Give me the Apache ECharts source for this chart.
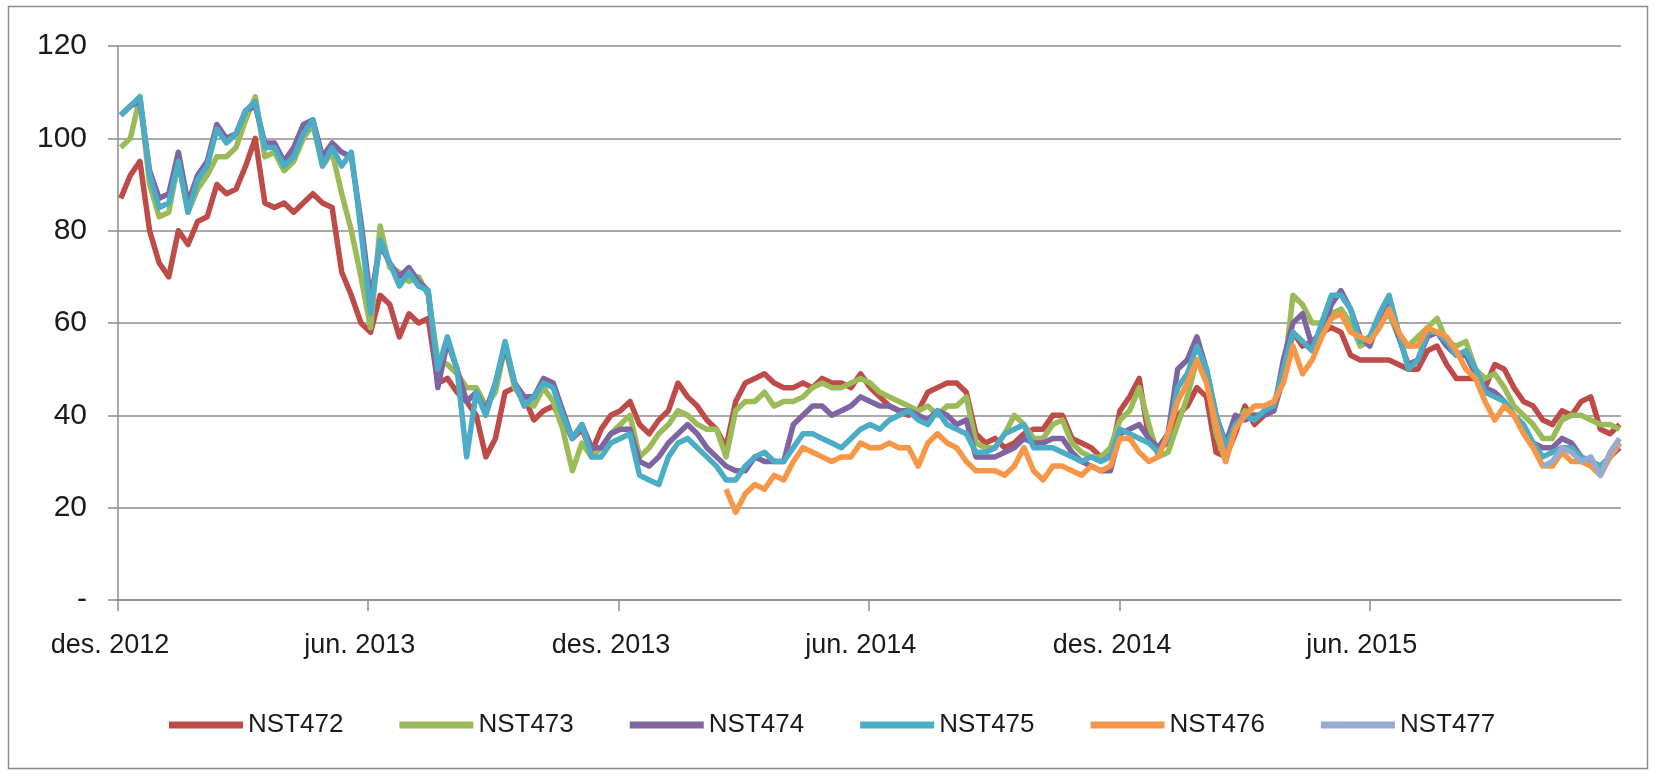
<!DOCTYPE html>
<html>
<head>
<meta charset="utf-8">
<title>NST</title>
<script src="https://cdn.jsdelivr.net/npm/echarts@6.0.0/dist/echarts.min.js"></script>
<style>
    html, body { margin: 0; padding: 0; background: #fff; }
    #chart { width: 1656px; height: 774px; }
</style>
</head>
<body>
<div id="chart"></div>
<script>
// weekly readings, first one 3 Dec 2012
var firstDate = '2012-12-03';
var weeks = 157;

var seriesNames = ['NST472', 'NST473', 'NST474', 'NST475', 'NST476', 'NST477'];
var colors = ['#BE4B48', '#9BBB59', '#8064A2', '#4BACC6', '#F79646', '#95ACD0'];

var nst472 = [
    87, 92, 95, 80, 73, 70, 80, 77, 82, 83,
    90, 88, 89, 94, 100, 86, 85, 86, 84, 86,
    88, 86, 85, 71, 66, 60, 58, 66, 64, 57,
    62, 60, 61, 47, 48, 45, 43, 40, 31, 35,
    45, 46, 44, 39, 41, 42, 39, 35, 37, 32,
    37, 40, 41, 43, 38, 36, 39, 41, 47, 44,
    42, 39, 37, 33, 43, 47, 48, 49, 47, 46,
    46, 47, 46, 48, 47, 47, 46, 49, 46, 44,
    42, 41, 40, 41, 45, 46, 47, 47, 45, 36,
    34, 35, 33, 34, 36, 37, 37, 40, 40, 35,
    34, 33, 31, 31, 41, 44, 48, 35, 33, 34,
    40, 42, 46, 44, 32, 31, 36, 42, 38, 40,
    41, 48, 58, 55, 56, 58, 59, 58, 53, 52,
    52, 52, 52, 51, 50, 50, 54, 55, 51, 48,
    48, 48, 46, 51, 50, 46, 43, 42, 39, 38,
    41, 40, 43, 44, 37, 36, 38
];
var nst473 = [
    98, 100, 109, 90, 83, 84, 95, 84, 89, 92,
    96, 96, 98, 104, 109, 96, 97, 93, 95, 100,
    103, 94, 97, 88, 80, 70, 59, 81, 72, 71,
    69, 70, 66, 52, 51, 49, 46, 46, 42, 45,
    55, 46, 43, 42, 46, 43, 37, 28, 34, 31,
    33, 36, 38, 40, 31, 33, 36, 38, 41, 40,
    38, 37, 37, 31, 41, 43, 43, 45, 42, 43,
    43, 44, 46, 47, 46, 46, 47, 48, 47, 45,
    44, 43, 42, 41, 42, 40, 42, 42, 44, 34,
    33, 33, 36, 40, 38, 35, 35, 38, 39, 34,
    32, 31, 31, 33, 39, 41, 46, 38, 31, 32,
    38, 44, 52, 48, 36, 30, 38, 41, 40, 40,
    42, 48, 66, 64, 60, 60, 62, 63, 60, 55,
    56, 60, 62, 57, 55, 57, 59, 61, 56, 55,
    56, 50, 48, 49, 46, 42, 40, 38, 35, 35,
    39, 40, 40, 39, 38, 38, 37
];
var nst474 = [
    105, 107, 108, 93, 87, 88, 97, 86, 92, 95,
    103, 100, 101, 106, 107, 99, 99, 95, 98, 103,
    104, 96, 99, 97, 96, 82, 65, 77, 73, 70,
    72, 69, 67, 46, 56, 50, 43, 45, 41, 47,
    55, 47, 44, 44, 48, 47, 41, 35, 38, 33,
    33, 36, 37, 37, 30, 29, 31, 34, 36, 38,
    36, 33, 31, 29, 28, 28, 31, 30, 30, 30,
    38, 40, 42, 42, 40, 41, 42, 44, 43, 42,
    42, 41, 41, 40, 39, 41, 40, 38, 39, 31,
    31, 31, 32, 33, 35, 34, 34, 35, 35, 32,
    30, 29, 28, 28, 36, 37, 38, 35, 33, 36,
    50, 52, 57, 50, 40, 34, 40, 39, 40, 40,
    41, 52, 60, 62, 55, 58, 64, 67, 63, 57,
    55, 61, 64, 57, 51, 52, 57, 58, 55, 53,
    53, 49, 46, 45, 43, 40, 37, 34, 33, 33,
    35, 34, 31, 30, 29, 31, 33
];
var nst475 = [
    105, 107, 109, 92, 85, 86, 95, 84, 91, 94,
    102, 99, 101, 106, 108, 98, 98, 94, 96, 101,
    104, 94, 98, 94, 97, 80, 62, 78, 73, 68,
    71, 68, 67, 50, 57, 50, 31, 45, 40, 47,
    56, 47, 42, 44, 47, 46, 40, 35, 38, 31,
    31, 34, 35, 36, 27, 26, 25, 31, 34, 35,
    33, 31, 29, 26, 26, 29, 31, 32, 30, 30,
    33, 36, 36, 35, 34, 33, 35, 37, 38, 37,
    39, 40, 41, 39, 38, 41, 38, 37, 36, 32,
    32, 33, 36, 37, 38, 33, 33, 33, 32, 31,
    30, 31, 30, 31, 37, 36, 35, 34, 32, 35,
    46, 49, 55, 50, 40, 33, 38, 40, 39, 41,
    42, 50, 58, 56, 54, 60, 66, 66, 63, 56,
    57, 62, 66, 58, 50, 52, 58, 58, 56, 53,
    54, 50, 45, 44, 43, 40, 38, 34, 31, 32,
    33, 33, 31, 30, 29, 31, 34
];
// NST476 starts mid Feb 2014 (week 63)
var nst476Start = 63;
var nst476 = [
    24, 19, 23, 25, 24, 27, 26, 30, 33, 32,
    31, 30, 31, 31, 34, 33, 33, 34, 33, 33,
    29, 34, 36, 34, 33, 30, 28, 28, 28, 27,
    29, 33, 28, 26, 29, 29, 28, 27, 29, 28,
    29, 35, 35, 32, 30, 31, 36, 43, 47, 52,
    47, 38, 30, 37, 40, 42, 42, 43, 47, 55,
    49, 52, 57, 61, 62, 58, 57, 56, 59, 63,
    58, 55, 55, 59, 58, 57, 54, 50, 48, 43,
    39, 42, 40, 36, 33, 29, 29, 32, 30, 30,
    29, 27, 31, 34
];
// NST477 starts early Oct 2015 (week 148)
var nst477Start = 148;
var nst477 = [29, 30, 33, 32, 30, 31, 27, 32, 35];

var axisStart = '2012-12-01';
var axisEnd = '2015-12-01';
var tickDates = ['2012-12-01', '2013-06-01', '2013-12-01', '2014-06-01', '2014-12-01', '2015-06-01'];
var tickLabels = ['des. 2012', 'jun. 2013', 'des. 2013', 'jun. 2014', 'des. 2014', 'jun. 2015'];

var chart = echarts.init(document.getElementById('chart'));

// x is counted in days from axisStart
var oneDay = 24 * 3600 * 1000;
var origin = echarts.time.parse(axisStart);
function dayOf(d) {
    return Math.round((echarts.time.parse(d) - origin) / oneDay);
}
var firstDay = dayOf(firstDate);
var days = [];
for (var i = 0; i < weeks; i++) {
    days.push(firstDay + i * 7);
}
var tickDays = tickDates.map(dayOf);

function pairs(values, start) {
    return values.map(function (v, k) { return [days[start + k], v]; });
}

var allData = [
    pairs(nst472, 0),
    pairs(nst473, 0),
    pairs(nst474, 0),
    pairs(nst475, 0),
    pairs(nst476, nst476Start),
    pairs(nst477, nst477Start)
];

var font = 'Liberation Sans, Arial, sans-serif';

var option = {
    animation: false,
    color: colors,
    graphic: [{
        type: 'rect',
        shape: { x: 8.5, y: 6.5, width: 1639, height: 762 },
        style: { fill: 'none', stroke: '#8c8c8c', lineWidth: 1.5 },
        silent: true
    }],
    grid: {
        left: 118,
        right: 35,
        top: 46,
        bottom: 174
    },
    legend: {
        left: 169,
        top: 712,
        padding: 0,
        icon: 'rect',
        itemWidth: 74,
        itemHeight: 7,
        itemGap: 56,
        textStyle: { fontFamily: font, fontSize: 26, color: '#1a1a1a' },
        data: seriesNames
    },
    xAxis: {
        type: 'value',
        min: 0,
        max: dayOf(axisEnd),
        splitLine: { show: false },
        axisLine: { show: true, lineStyle: { color: '#8c8c8c', width: 1.5 } },
        axisTick: {
            show: true,
            length: 11,
            customValues: tickDays,
            lineStyle: { color: '#8c8c8c', width: 1.5 }
        },
        axisLabel: {
            customValues: tickDays,
            margin: 32,
            padding: [0, 16, 0, 0],
            fontFamily: font,
            fontSize: 27,
            color: '#1a1a1a',
            formatter: function (val) {
                var k = tickDays.indexOf(val);
                return k < 0 ? '' : tickLabels[k];
            }
        }
    },
    yAxis: {
        type: 'value',
        min: 0,
        max: 120,
        interval: 20,
        axisLine: { show: true, lineStyle: { color: '#8c8c8c', width: 1.5 } },
        axisTick: { show: true, length: 10, lineStyle: { color: '#8c8c8c', width: 1.5 } },
        splitLine: { lineStyle: { color: '#8c8c8c', width: 1.5 } },
        axisLabel: {
            margin: 31,
            fontFamily: font,
            fontSize: 30,
            color: '#1a1a1a',
            formatter: function (v) { return v === 0 ? '-' : v; }
        }
    },
    series: seriesNames.map(function (name, n) {
        return {
            name: name,
            type: 'line',
            showSymbol: false,
            symbol: 'none',
            lineStyle: { width: 5.5, join: 'round' },
            data: allData[n]
        };
    })
};

chart.setOption(option);
</script>
</body>
</html>
